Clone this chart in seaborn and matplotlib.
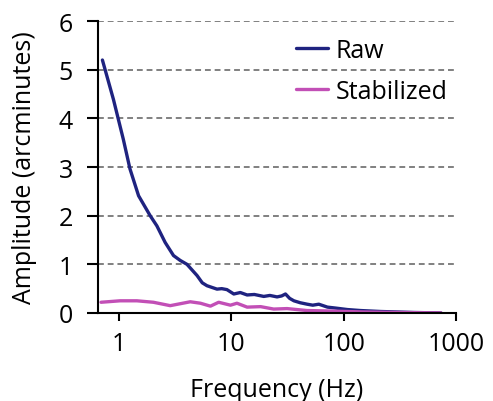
import pandas as pd
import seaborn as sns
import matplotlib.pyplot as plt

raw_freq = [0.71, 0.89, 1.09, 1.25, 1.49, 1.89, 2.17, 2.57, 3.05, 3.5, 4.02, 4.94, 5.5, 6.06,
            7.44, 8.2, 9.12, 10.5, 12.0, 13.8, 16.0, 19.4, 22.0, 25.5, 28.0, 30.3, 33.0, 36.0,
            41.0, 47.3, 53.0, 60.0, 71.6, 85.0, 108.0, 141.0, 214.0, 300.0, 420.0, 735.0]
raw_amp = [5.2, 4.39, 3.57, 2.96, 2.41, 2.0, 1.79, 1.45, 1.18, 1.08, 1.0, 0.77, 0.62, 0.56,
           0.49, 0.5, 0.48, 0.39, 0.42, 0.37, 0.38, 0.34, 0.36, 0.33, 0.35, 0.39, 0.3, 0.25,
           0.21, 0.18, 0.16, 0.18, 0.12, 0.1, 0.07, 0.05, 0.03, 0.02, 0.01, 0.0]

stab_freq = [0.69, 1.02, 1.44, 2.02, 2.85, 3.5, 4.3, 5.3, 6.5, 7.7, 9.8, 11.2, 13.8, 18.2,
             23.8, 31.3, 47.0, 76.0, 150.0, 300.0, 735.0]
stab_amp = [0.22, 0.25, 0.25, 0.22, 0.15, 0.19, 0.23, 0.2, 0.14, 0.22, 0.16, 0.2, 0.12, 0.13,
            0.08, 0.09, 0.05, 0.04, 0.02, 0.01, 0.0]

raw_df = pd.DataFrame({'Frequency': raw_freq, 'Amplitude': raw_amp})
stab_df = pd.DataFrame({'Frequency': stab_freq, 'Amplitude': stab_amp})

sns.set_style('white')
plt.rcParams['font.family'] = ['Open Sans', 'DejaVu Sans']
plt.rcParams['text.color'] = 'black'
plt.rcParams['axes.labelcolor'] = 'black'
plt.rcParams['xtick.color'] = 'black'
plt.rcParams['ytick.color'] = 'black'

fig = plt.figure(figsize=(4.93, 4.02), dpi=100)
ax = fig.add_axes([0.199, 0.219, 0.726, 0.726])

sns.lineplot(data=raw_df, x='Frequency', y='Amplitude', color='#1f2380', lw=2.4,
             label='Raw', ax=ax)
sns.lineplot(data=stab_df, x='Frequency', y='Amplitude', color='#c24fb6', lw=2.4,
             label='Stabilized', ax=ax)

ax.set_xscale('log')
ax.set_xlim(0.65, 1000)
ax.set_ylim(0, 6)
ax.set_xticks([1, 10, 100, 1000])
ax.set_xticklabels(['1', '10', '100', '1000'])
ax.set_yticks([0, 1, 2, 3, 4, 5, 6])
ax.minorticks_off()

for y in range(1, 7):
    ax.axhline(y, color='#808080', lw=1.4, ls=(0, (3, 2)), zorder=0)

sns.despine(ax=ax)
for s in ['left', 'bottom']:
    ax.spines[s].set_color('black')
    ax.spines[s].set_linewidth(1.5)
ax.tick_params(axis='both', direction='out', width=1.5, labelsize=18,
               bottom=True, left=True)
ax.tick_params(axis='y', length=8, pad=10)
ax.tick_params(axis='x', length=6, pad=7)

ax.set_xlabel('Frequency (Hz)', fontsize=18, labelpad=15)
ax.set_ylabel('Amplitude (arcminutes)', fontsize=18, labelpad=16)

ax.legend(loc='upper right', bbox_to_anchor=(1.04, 1.02), frameon=False, fontsize=18,
          handlelength=1.3, handletextpad=0.3, labelspacing=0.65)

fig.savefig('out.png', dpi=100)
